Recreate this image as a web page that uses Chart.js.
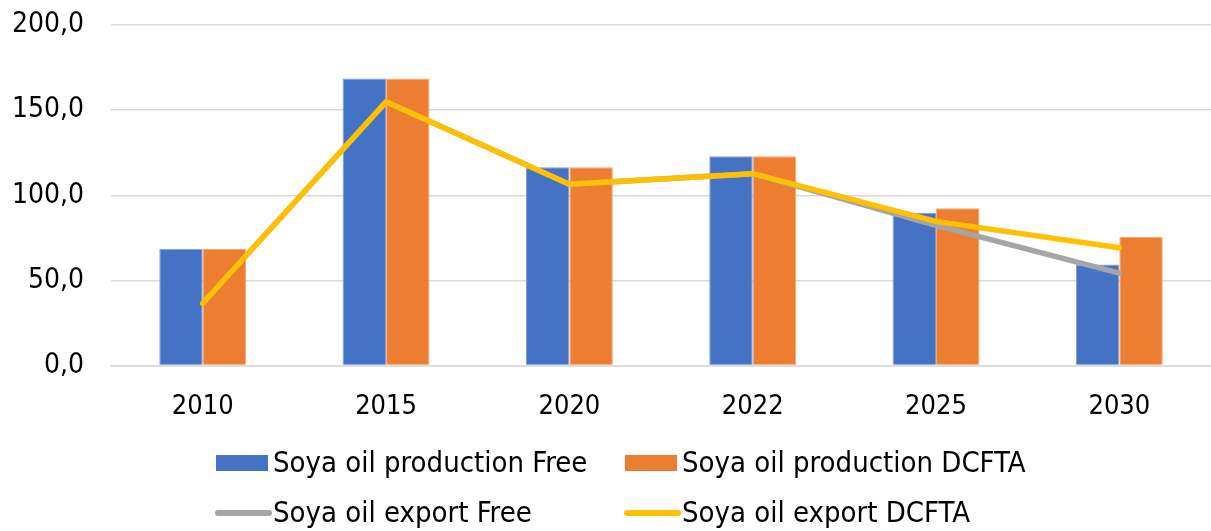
<!DOCTYPE html>
<html>
<head>
<meta charset="utf-8">
<script src="https://cdn.jsdelivr.net/npm/chart.js@4.4.0/dist/chart.umd.min.js"></script>
<style>
  html, body { margin: 0; padding: 0; background: #fff; }
  #chart { display: block; }
</style>
</head>
<body>
<canvas id="chart" width="1211" height="531"></canvas>
<script>
// Chart data
const years = ['2010', '2015', '2020', '2022', '2025', '2030'];
const productionFree = [68.6, 168.6, 116.5, 122.9, 89.8, 59.4];
const productionDcfta = [68.6, 168.6, 116.5, 122.9, 92.4, 75.7];
const exportFree = [36.6, 154.9, 106.5, 112.7, 82.4, 54.3];
const exportDcfta = [36.6, 154.9, 106.5, 112.7, 84.7, 69.2];
const yTicks = [0, 50, 100, 150, 200];

const FONT = 'DejaVu Sans Condensed';

// Legend drawn as a 2x2 grid under the chart
const gridLegend = {
  id: 'gridLegend',
  afterDraw(chart) {
    const ctx = chart.ctx;
    const cols = [216, 625];
    const rows = [463, 513];
    ctx.save();
    ctx.font = '29px "' + FONT + '"';
    ctx.textBaseline = 'middle';
    chart.data.datasets.forEach((ds, i) => {
      const x = cols[i % 2];
      const y = rows[Math.floor(i / 2)];
      if (ds.type === 'line') {
        ctx.strokeStyle = ds.borderColor;
        ctx.lineWidth = 6;
        ctx.lineCap = 'round';
        ctx.beginPath();
        ctx.moveTo(x + 2, y);
        ctx.lineTo(x + 53, y);
        ctx.stroke();
      } else {
        ctx.fillStyle = ds.backgroundColor;
        ctx.fillRect(x, y - 8, 52, 16);
      }
      ctx.fillStyle = '#000';
      ctx.fillText(ds.label, x + 57, y + 1);
    });
    ctx.restore();
  }
};

new Chart(document.getElementById('chart'), {
  data: {
    labels: years,
    datasets: [
      {
        type: 'bar',
        label: 'Soya oil production Free',
        data: productionFree,
        backgroundColor: '#4472C4',
        borderColor: '#7f9bd6',
        borderWidth: 1,
        categoryPercentage: 0.474,
        barPercentage: 1.0,
        order: 2
      },
      {
        type: 'bar',
        label: 'Soya oil production DCFTA',
        data: productionDcfta,
        backgroundColor: '#ED7D31',
        borderColor: '#f3a773',
        borderWidth: 1,
        categoryPercentage: 0.474,
        barPercentage: 1.0,
        order: 2
      },
      {
        type: 'line',
        label: 'Soya oil export Free',
        data: exportFree,
        borderColor: '#A5A5A5',
        backgroundColor: '#A5A5A5',
        borderWidth: 5.5,
        borderCapStyle: 'round',
        borderJoinStyle: 'round',
        pointRadius: 0,
        tension: 0,
        order: 1
      },
      {
        type: 'line',
        label: 'Soya oil export DCFTA',
        data: exportDcfta,
        borderColor: '#FFC000',
        backgroundColor: '#FFC000',
        borderWidth: 5.5,
        borderCapStyle: 'round',
        borderJoinStyle: 'round',
        pointRadius: 0,
        tension: 0,
        order: 0
      }
    ]
  },
  options: {
    responsive: false,
    animation: false,
    layout: {
      padding: { left: 12, right: 0, top: 25, bottom: 83 }
    },
    plugins: {
      legend: { display: false },
      tooltip: { enabled: false }
    },
    scales: {
      x: {
        grid: { display: false, drawTicks: false },
        border: { color: '#d9d9d9', width: 1.5 },
        ticks: {
          color: '#000',
          padding: 25,
          font: { family: FONT, size: 27 }
        }
      },
      y: {
        min: 0,
        max: 200,
        afterBuildTicks: axis => { axis.ticks = yTicks.map(v => ({ value: v })); },
        grid: { color: '#d9d9d9', lineWidth: 1.5, drawTicks: true, tickLength: 27, tickColor: 'rgba(0,0,0,0)' },
        border: { display: false },
        ticks: {
          color: '#000',
          padding: 0,
          font: { family: FONT, size: 28 },
          callback: v => v.toFixed(1).replace('.', ',')
        }
      }
    }
  },
  plugins: [gridLegend]
});
</script>
</body>
</html>
